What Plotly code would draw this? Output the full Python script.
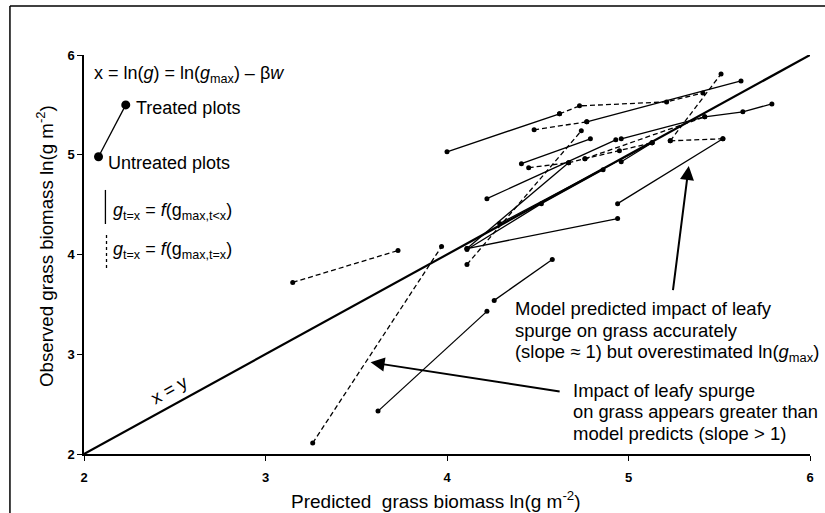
import plotly.graph_objects as go

# ---- data ----
axis_ticks = [2, 3, 4, 5, 6]
tick_labels = ["2", "3", "4", "5", "6"]

identity_x = [2, 6]
identity_y = [2, 6]

# solid segments: g_t=x = f(g_max,t<x)
solid_x = [
    [4.00, 4.62], [4.41, 4.79], [4.22, 4.93], [4.77, 5.62], [4.96, 5.42, 5.63, 5.79],
    [4.94, 5.52], [4.11, 4.94], [4.11, 4.52, 4.86], [4.29, 5.13], [3.62, 4.22],
    [4.26, 4.58], [4.11, 4.67], [4.96, 5.13],
]
solid_y = [
    [5.03, 5.41], [4.91, 5.16], [4.56, 5.15], [5.33, 5.74], [5.16, 5.38, 5.43, 5.51],
    [4.51, 5.16], [4.06, 4.36], [4.05, 4.51, 4.85], [4.31, 5.12], [2.43, 3.43],
    [3.54, 3.95], [4.06, 4.92], [4.93, 5.12],
]

# dashed segments: g_t=x = f(g_max,t=x)
dashed_x = [
    [3.15, 3.73], [3.26, 3.97], [4.11, 4.74], [4.48, 4.77], [4.62, 4.73, 5.21, 5.41],
    [4.45, 4.67, 4.76, 4.95, 5.13], [5.23, 5.52], [5.23, 5.51], [4.76, 5.42],
]
dashed_y = [
    [3.72, 4.04], [2.11, 4.08], [3.90, 5.24], [5.25, 5.33], [5.41, 5.49, 5.53, 5.62],
    [4.87, 4.92, 4.96, 5.04, 5.12], [5.14, 5.16], [5.14, 5.81], [4.96, 5.38],
]

# legend example pair (untreated -> treated)
legend_x = [2.08, 2.23]
legend_y = [4.98, 5.50]


def join(segs):
    out = []
    for s in segs:
        out += list(s) + [None]
    return out


FONT = "Liberation Sans, Arial, sans-serif"

fig = go.Figure()

fig.add_trace(go.Scatter(x=identity_x, y=identity_y, mode="lines",
                         line=dict(color="black", width=2.2), hoverinfo="skip"))
fig.add_trace(go.Scatter(x=join(solid_x), y=join(solid_y), mode="lines+markers",
                         line=dict(color="black", width=1.3),
                         marker=dict(color="black", size=5), connectgaps=False))
fig.add_trace(go.Scatter(x=join(dashed_x), y=join(dashed_y), mode="lines+markers",
                         line=dict(color="black", width=1.3, dash="5px,3px"),
                         marker=dict(color="black", size=5), connectgaps=False))
fig.add_trace(go.Scatter(x=legend_x, y=legend_y, mode="lines+markers",
                         line=dict(color="black", width=1.3),
                         marker=dict(color="black", size=9), cliponaxis=False))

ann = []


def txt(x, y, s, size=18, xanchor="left", **kw):
    ann.append(dict(x=x, y=y, xref="x", yref="y", text=s, showarrow=False,
                    xanchor=xanchor, yanchor="middle",
                    font=dict(family=FONT, size=size, color="black"), **kw))


txt(2.045, 5.80, "x = ln(<i>g</i>) = ln(<i>g</i><sub>max</sub>) – β<i>w</i>")
txt(2.275, 5.47, "Treated plots")
txt(2.12, 4.92, "Untreated plots")
txt(2.15, 4.43, "<i>g</i><sub>t=x</sub> = <i>f</i>(g<sub>max,t&lt;x</sub>)")
txt(2.15, 4.045, "<i>g</i><sub>t=x</sub> = <i>f</i>(g<sub>max,t=x</sub>)")

txt(4.365, 3.46, "Model predicted impact of leafy", size=18.5)
txt(4.365, 3.24, "spurge on grass accurately", size=18.5)
txt(4.365, 3.01, "(slope ≈ 1) but overestimated ln(<i>g</i><sub>max</sub>)", size=18.4)

txt(4.684, 2.64, "Impact of leafy spurge", size=18.5)
txt(4.684, 2.425, "on grass appears greater than", size=18.3)
txt(4.684, 2.21, "model predicts (slope &gt; 1)", size=18.5)

txt(2.47, 2.64, "x = y", xanchor="center", textangle=-29)

# arrows
for (tx, ty, sx, sy) in [(5.332, 4.887, 5.244, 3.627), (3.579, 2.919, 4.629, 2.625)]:
    ann.append(dict(x=tx, y=ty, ax=sx, ay=sy, xref="x", yref="y", axref="x", ayref="y",
                    showarrow=True, arrowhead=2, arrowsize=1.4, arrowwidth=2,
                    arrowcolor="black", text=""))

# axis titles
ann.append(dict(x=0.4848, y=-0.115, xref="paper", yref="paper", showarrow=False,
                text="Predicted  grass biomass ln(g m<sup>-2</sup>)", xanchor="center",
                yanchor="middle", font=dict(family=FONT, size=19, color="black")))
ann.append(dict(x=-0.054, y=0.521, xref="paper", yref="paper", showarrow=False,
                text="Observed grass biomass ln(g m<sup>-2</sup>)", textangle=-90,
                xanchor="center", yanchor="middle",
                font=dict(family=FONT, size=18.7, color="black")))

shapes = [
    # legend line-style glyphs
    dict(type="line", xref="x", yref="y", x0=2.118, x1=2.118, y0=4.647, y1=4.306,
         line=dict(color="black", width=1.3)),
    dict(type="line", xref="x", yref="y", x0=2.124, x1=2.124, y0=4.196, y1=3.845,
         line=dict(color="black", width=1.3, dash="dot")),
    # outer scan frame (top and left)
    dict(type="line", xref="paper", yref="paper", x0=-0.102, x1=1.03, y0=1.1228, y1=1.1228,
         line=dict(color="black", width=1.5)),
    dict(type="line", xref="paper", yref="paper", x0=-0.102, x1=-0.102, y0=1.1228, y1=-0.2,
         line=dict(color="black", width=1.5)),
]

axis_common = dict(range=[2, 6], tickvals=axis_ticks, ticktext=tick_labels,
                   showline=True, linecolor="black", linewidth=1.5, ticks="outside",
                   ticklen=5, tickwidth=1.2, tickcolor="black", showgrid=False,
                   zeroline=False, fixedrange=True,
                   tickfont=dict(family=FONT, size=13, color="black", weight="bold"))

fig.update_layout(
    width=825, height=513,
    margin=dict(l=84, r=15, t=55, b=59),
    paper_bgcolor="white", plot_bgcolor="white",
    showlegend=False,
    xaxis=dict(**axis_common, ticklabelstandoff=6),
    yaxis=dict(**axis_common),
    annotations=ann, shapes=shapes,
)

# remove the default 8px page margin so the figure fills the window exactly
fig.write_html("out.html", config={"displayModeBar": False},
               post_script="document.body.style.margin='0px';document.body.style.overflow='hidden';")
